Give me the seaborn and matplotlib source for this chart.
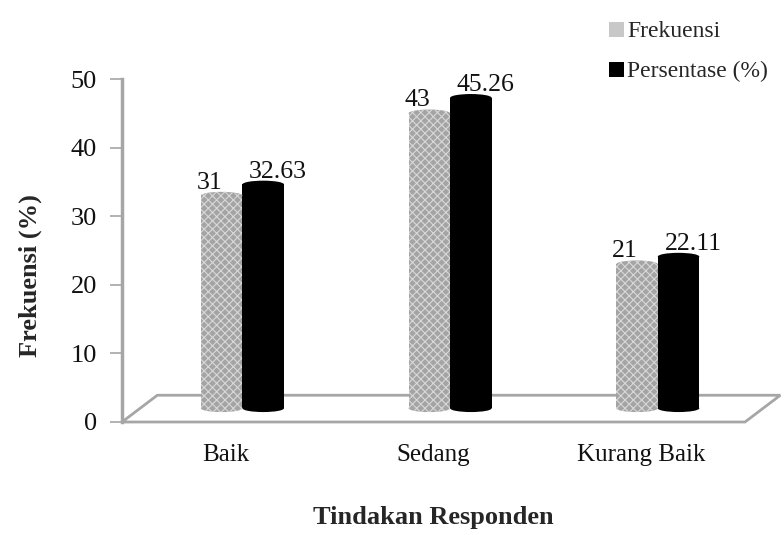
import matplotlib
matplotlib.use('Agg')
import matplotlib.pyplot as plt
from matplotlib.patches import Polygon, Patch, Ellipse
import pandas as pd
import seaborn as sns

# ── data ─────────────────────────────────────────────────────────────────────
categories = ['Baik', 'Sedang', 'Kurang Baik']
frekuensi = [31, 43, 21]
persentase = [32.63, 45.26, 22.11]
series_names = ['Frekuensi', 'Persentase (%)']
yticks = [0, 10, 20, 30, 40, 50]

sns.set_theme(style='white')
plt.rcParams['font.family'] = ['Liberation Serif', 'DejaVu Serif']
plt.rcParams['hatch.linewidth'] = 0.8

df = pd.DataFrame({
    'Kategori': categories * 2,
    'Seri': [series_names[0]] * 3 + [series_names[1]] * 3,
    'Nilai': frekuensi + persentase,
})

fig = plt.figure(figsize=(7.84, 5.35), dpi=100)
ax = fig.add_axes([122 / 784, 1 - 422 / 535, 623 / 784, 343 / 535])

sns.barplot(data=df, x='Kategori', y='Nilai', hue='Seri', ax=ax,
            palette=['#a4a4a4', '#000000'], width=0.4, legend=False,
            saturation=1, zorder=3)

# 3-D look: bars stand on the floor, pushed back a little, with round ends
depth_x, depth_y = 0.08, 2.0
cap_h = 1.1
labels_src = [frekuensi, persentase]
for s, cont in enumerate(ax.containers):
    for bar, val in zip(cont, labels_src[s]):
        bar.set_x(bar.get_x() + depth_x)
        bar.set_y(depth_y)
        bar.set_edgecolor('none')
        hatch = None
        ec = 'none'
        if s == 0:
            hatch = 'xxxx'
            ec = '#d8d8d8'
            bar.set_hatch(hatch)
            bar.set_edgecolor(ec)
            bar.set_linewidth(0)
        fc = bar.get_facecolor()
        cx = bar.get_x() + bar.get_width() / 2
        bw = bar.get_width()
        for yy in (depth_y, depth_y + val):
            ax.add_patch(Ellipse((cx, yy), bw, cap_h, facecolor=fc, edgecolor=ec,
                                 hatch=hatch, linewidth=0, zorder=3 + s * 0.1))
        off = -0.06 if s == 0 else 0.07
        txt = f'{val:g}' if s == 0 else f'{val:.2f}'
        ax.text(cx + off, val + depth_y + 1.0, txt, ha='center', va='baseline',
                fontsize=18.5, color='#111111', zorder=5)

# floor
floor = Polygon([(-0.5, 0), (2.5, 0), (2.67, 3.9), (-0.33, 3.9)], closed=True,
                facecolor='white', edgecolor='#a6a6a6', linewidth=2,
                clip_on=False, zorder=1)
ax.add_patch(floor)

ax.set_xlim(-0.5, 2.5)
ax.set_ylim(0, 50)
ax.set_yticks(yticks)
ax.tick_params(axis='y', which='both', left=True, length=9, width=1.2,
               color='#a6a6a6', labelsize=19, pad=9, labelcolor='#111111')
ax.tick_params(axis='x', bottom=False, labelsize=18, pad=10, labelcolor='#111111')
for side in ['top', 'right', 'bottom']:
    ax.spines[side].set_visible(False)
ax.spines['left'].set_color('#a6a6a6')
ax.spines['left'].set_linewidth(2.5)

ax.set_xlabel('Tindakan Responden', fontsize=19, fontweight='bold', va='top')
ax.xaxis.set_label_coords(0.5, -0.245)
ax.set_ylabel('Frekuensi (%)', fontsize=19, fontweight='bold')
ax.yaxis.set_label_coords(-0.128, 0.426)

handles = [Patch(facecolor='#c8c8c8', edgecolor='none'),
           Patch(facecolor='#000000', edgecolor='none')]
fig.legend(handles, series_names, loc='upper left',
           bbox_to_anchor=(600 / 784, 1 - 12 / 535), frameon=False,
           fontsize=17, handlelength=0.6, handleheight=0.6,
           handletextpad=0.15, labelspacing=0.8, borderaxespad=0)

fig.savefig('out.png', dpi=100)
